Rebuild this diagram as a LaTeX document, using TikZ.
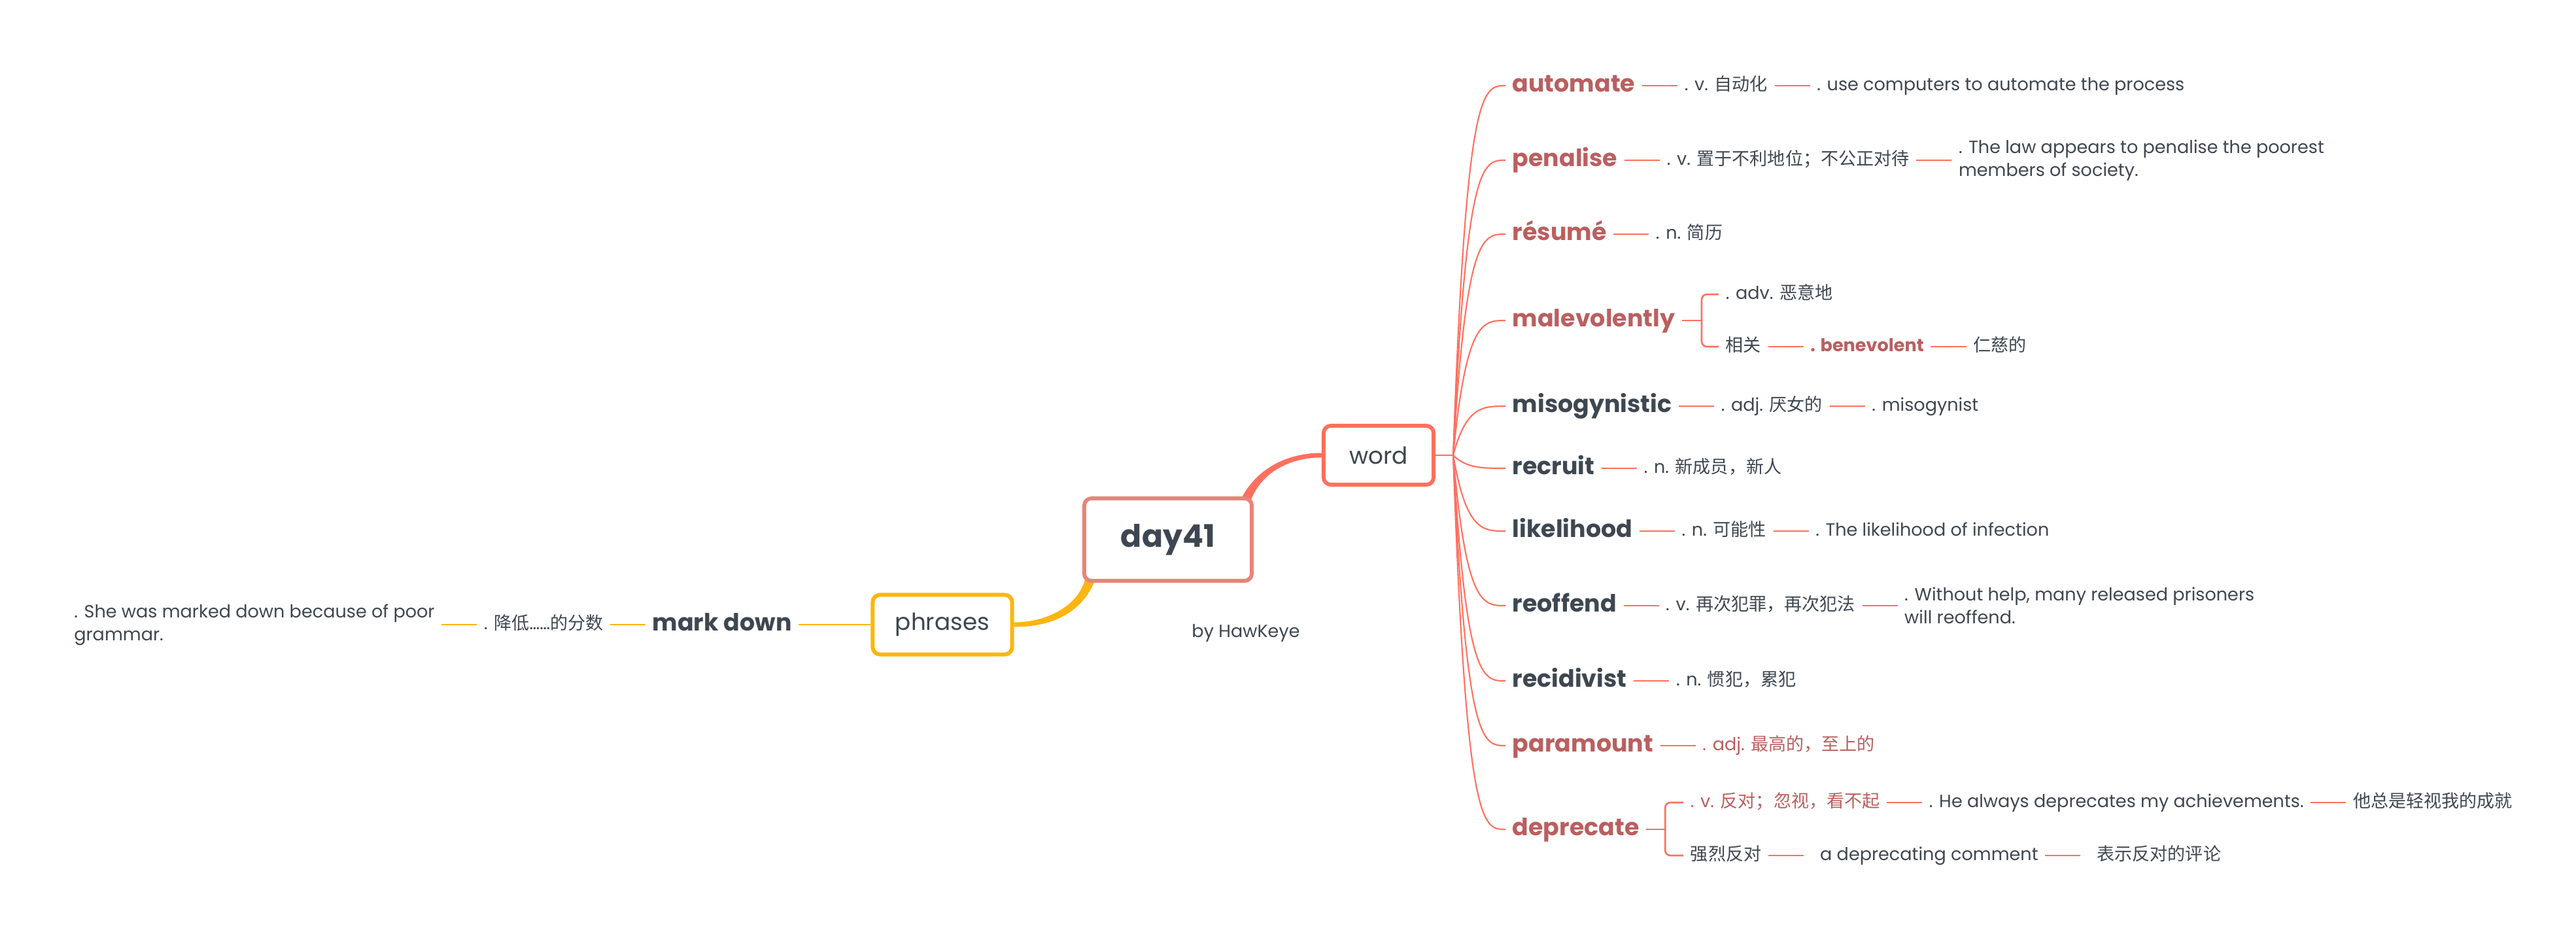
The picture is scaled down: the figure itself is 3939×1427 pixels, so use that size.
\documentclass[tikz,border=0pt]{standalone}
\usepackage{fontspec}
\setmainfont{Poppins}
\newfontfamily\cjk{Noto Sans CJK SC}
\usepackage{tikz}
\usetikzlibrary{positioning,calc,backgrounds}
\definecolor{coral}{RGB}{255,112,94}
\definecolor{rosered}{RGB}{233,132,122}
\definecolor{amber}{RGB}{255,181,15}
\definecolor{wordred}{RGB}{186,95,95}
\definecolor{ink}{RGB}{62,71,81}
\newcommand{\zh}[1]{{\cjk #1}}

\begin{document}
\begin{tikzpicture}[x=0.01cm, y=-0.01cm,
    topic/.style={draw, fill=white, rounded corners=0.11cm, line width=1.7pt, text=ink, font=\fontsize{10.2}{12}\selectfont},
    headword/.style={font=\bfseries\fontsize{10.35}{12}\selectfont, inner xsep=0.1cm, inner ysep=0.04cm, text height=0.28cm, text depth=0.09cm},
    gloss/.style={font=\fontsize{7.7}{10}\selectfont, text=ink, inner xsep=0.1cm, inner ysep=0.04cm, text height=0.2cm, text depth=0.06cm},
    keyword/.style={gloss, font=\bfseries\fontsize{7.7}{10}\selectfont, text=wordred},
    example/.style={font=\fontsize{7.7}{10}\selectfont, text=ink, inner xsep=0.1cm, align=left},
    twig/.style={coral, line width=0.75pt},
    branch/.style={coral, line width=0.6pt},
    node distance=0.54cm]
    \useasboundingbox (0,0) rectangle (3939,1427);

    % Central topics
    \node[topic, draw=rosered, minimum width=2.56cm, minimum height=1.26cm, font=\bfseries\fontsize{13.5}{16}\selectfont] (day41) at (1786,825) {day41};
    \node[topic, draw=coral, minimum width=1.68cm, minimum height=0.9cm] (word) at (2108,696) {word};
    \node[topic, draw=amber, minimum width=2.13cm, minimum height=0.91cm] (phrases) at (1441,955) {phrases};
    \node[gloss] (byline) at (1905,967) {by HawKeye};

    % Thick tapered links
    \begin{scope}[on background layer]
        \fill[coral] ([xshift=-0.2cm,yshift=-0.05cm]day41.north east) .. controls +(25,-50) and +(-50,0) .. ([yshift=0.035cm]word.west)
            -- ([yshift=-0.035cm]word.west) .. controls +(-45,0) and +(18,-45) .. ([xshift=-0.04cm,yshift=-0.05cm]day41.north east) -- cycle;
        \fill[amber] ([xshift=0.04cm,yshift=0.05cm]day41.south west) .. controls +(-10,40) and +(50,0) .. ([yshift=0.035cm]phrases.east)
            -- ([yshift=-0.035cm]phrases.east) .. controls +(60,0) and +(-20,50) .. ([xshift=0.2cm,yshift=0.05cm]day41.south west) -- cycle;
    \end{scope}

    % Words hub
    \coordinate (hub) at ($(word.east)+(27,0)$);
    \draw[twig] (word) -- (hub);

    % Head words and their branches
    \foreach \w/\txt/\y/\ink in {automate/automate/131/wordred, penalise/penalise/245/wordred, resume/résumé/358/wordred,
        malevolently/malevolently/490/wordred, misogynistic/misogynistic/621/ink, recruit/recruit/716/ink,
        likelihood/likelihood/812/ink, reoffend/reoffend/926/ink, recidivist/recidivist/1041/ink,
        paramount/paramount/1140/wordred, deprecate/deprecate/1268/wordred} {
        \node[headword, text=\ink, anchor=west] (\w) at (2302,\y) {\txt};
        \draw[branch] (hub) .. controls ($(hub |- \w.west)+(20,0)$) and ($(hub |- \w.west)+(45,0)$) .. (\w.west);
    }

    % automate
    \node[gloss, right=of automate] (automateA) {. v. \zh{自动化}};
    \node[gloss, right=of automateA] (automateB) {. use computers to automate the process};
    \draw[twig] (automate) -- (automateA) -- (automateB);

    % penalise
    \node[gloss, right=of penalise] (penaliseA) {. v. \zh{置于不利地位；不公正对待}};
    \node[example, right=of penaliseA] (penaliseB) {. The law appears to penalise the poorest\\members of society.};
    \draw[twig] (penalise) -- (penaliseA) -- (penaliseB);

    % resume
    \node[gloss, right=of resume] (resumeA) {. n. \zh{简历}};
    \draw[twig] (resume) -- (resumeA);

    % malevolently
    \coordinate (malefork) at ($(malevolently.east)+(30,0)$);
    \node[gloss, anchor=west] (maleadv) at ($(malefork)+(26,-40)$) {. adv. \zh{恶意地}};
    \node[gloss, anchor=west] (malerel) at ($(malefork)+(26,40)$) {\zh{相关}};
    \node[keyword, right=of malerel] (benevolent) {. benevolent};
    \node[gloss, right=of benevolent] (benevolentzh) {\zh{仁慈的}};
    \draw[twig] (malevolently) -- (malefork);
    \draw[twig, rounded corners=0.08cm] (malefork) |- (maleadv);
    \draw[twig, rounded corners=0.08cm] (malefork) |- (malerel);
    \draw[twig] (malerel) -- (benevolent) -- (benevolentzh);

    % misogynistic
    \node[gloss, right=of misogynistic] (misogynisticA) {. adj. \zh{厌女的}};
    \node[gloss, right=of misogynisticA] (misogynisticB) {. misogynist};
    \draw[twig] (misogynistic) -- (misogynisticA) -- (misogynisticB);

    % recruit
    \node[gloss, right=of recruit] (recruitA) {. n. \zh{新成员，新人}};
    \draw[twig] (recruit) -- (recruitA);

    % likelihood
    \node[gloss, right=of likelihood] (likelihoodA) {. n. \zh{可能性}};
    \node[gloss, right=of likelihoodA] (likelihoodB) {. The likelihood of infection};
    \draw[twig] (likelihood) -- (likelihoodA) -- (likelihoodB);

    % reoffend
    \node[gloss, right=of reoffend] (reoffendA) {. v. \zh{再次犯罪，再次犯法}};
    \node[example, right=of reoffendA] (reoffendB) {. Without help, many released prisoners\\will reoffend.};
    \draw[twig] (reoffend) -- (reoffendA) -- (reoffendB);

    % recidivist
    \node[gloss, right=of recidivist] (recidivistA) {. n. \zh{惯犯，累犯}};
    \draw[twig] (recidivist) -- (recidivistA);

    % paramount
    \node[gloss, text=wordred, right=of paramount] (paramountA) {. adj. \zh{最高的，至上的}};
    \draw[twig] (paramount) -- (paramountA);

    % deprecate
    \coordinate (deprefork) at ($(deprecate.east)+(29,0)$);
    \node[gloss, text=wordred, anchor=west] (deprecateA) at ($(deprefork)+(28,-41)$) {. v. \zh{反对；忽视，看不起}};
    \node[gloss, right=of deprecateA] (deprecateB) {. He always deprecates my achievements.};
    \node[gloss, right=of deprecateB] (deprecateC) {\zh{他总是轻视我的成就}};
    \node[gloss, anchor=west] (strongly) at ($(deprefork)+(28,40)$) {\zh{强烈反对}};
    \node[gloss, right=of strongly] (comment) {~~a deprecating comment};
    \node[gloss, right=of comment] (commentzh) {~~\zh{表示反对的评论}};
    \draw[twig] (deprecate) -- (deprefork);
    \draw[twig, rounded corners=0.08cm] (deprefork) |- (deprecateA);
    \draw[twig, rounded corners=0.08cm] (deprefork) |- (strongly);
    \draw[twig] (deprecateA) -- (deprecateB) -- (deprecateC);
    \draw[twig] (strongly) -- (comment) -- (commentzh);

    % Phrases branch
    \node[headword, text=ink, left=1.1cm of phrases] (markdown) {mark down};
    \node[gloss, left=of markdown] (markdownA) {. \zh{降低}……\zh{的分数}};
    \node[example, left=of markdownA] (markdownB) {. She was marked down because of poor\\grammar.};
    \draw[twig, amber] (phrases) -- (markdown) -- (markdownA) -- (markdownB);
\end{tikzpicture}
\end{document}
